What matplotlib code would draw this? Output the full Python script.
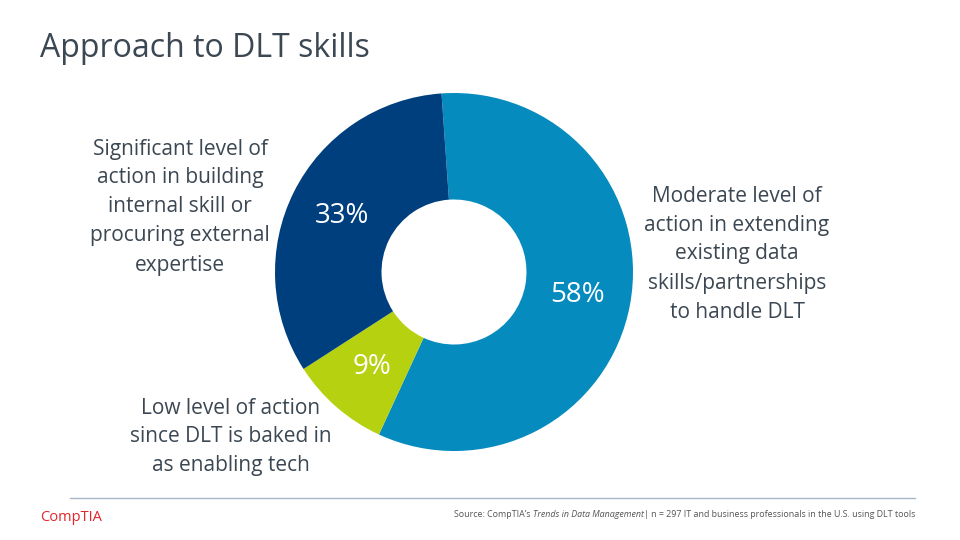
import matplotlib
matplotlib.use("Agg")
import matplotlib.pyplot as plt

plt.rcParams['font.family'] = ['Open Sans', 'DejaVu Sans']

# data
shares = [58, 9, 33]
pct_labels = ['58%', '9%', '33%']
colors = ['#068BBE', '#B6D10F', '#003F7D']
cat_labels = [
    'Moderate level of\naction in extending\nexisting data\nskills/partnerships\nto handle DLT',
    'Low level of action\nsince DLT is baked in\nas enabling tech',
    'Significant level of\naction in building\ninternal skill or\nprocuring external\nexpertise',
]
title = 'Approach to DLT skills'
source_parts = ["Source: CompTIA\u2019s ", "Trends in Data Management", "| n = 297 IT and business professionals in the U.S. using DLT tools"]

W, H = 960, 540
fig = plt.figure(figsize=(9.6, 5.4), dpi=100)
fig.patch.set_facecolor('white')

def px(x, y):
    return x / W, 1 - y / H

text_col = '#3B4752'

# donut
cx, cy, r = 454, 272, 179
ax = fig.add_axes([(cx - r) / W, 1 - (cy + r) / H, 2 * r / W, 2 * r / H])
wedges, texts, autotexts = ax.pie(
    shares, colors=colors, startangle=94, counterclock=False,
    wedgeprops=dict(width=1 - 72.5 / 179, linewidth=0),
    autopct=lambda p: '', pctdistance=0.70)
for t, lab in zip(autotexts, pct_labels):
    t.set_text(lab)
    t.set_color('white')
    t.set_fontsize(20)
ax.set_xlim(-1, 1)
ax.set_ylim(-1, 1)
ax.set_aspect('equal')
ax.axis('off')

# category labels
label_pos = [(737, 254), (231, 437), (180, 207)]
for lab, (x, y) in zip(cat_labels, label_pos):
    fig.text(*px(x, y), lab, ha='center', va='center', fontsize=15,
             color=text_col, linespacing=1.5)

# title
fig.text(*px(40, 57), title, ha='left', va='baseline', fontsize=23, color=text_col)

# footer
fig.add_artist(plt.Line2D([70 / W, 915 / W], [1 - 498 / H] * 2, color='#A9B8C6', lw=1.0))
fig.text(*px(40, 521), 'CompTIA', ha='left', va='baseline', fontsize=10.5,
         color='#E3262D', fontweight='normal')

renderer = fig.canvas.get_renderer()
styles = ['normal', 'italic', 'normal']
objs = []
for part, st in zip(source_parts, styles):
    objs.append(fig.text(0, 1 - 517 / H, part, ha='left', va='baseline',
                         fontsize=6.4, style=st, color='#555555'))
widths = [o.get_window_extent(renderer).width for o in objs]
x = 915 - sum(widths)
for o, w in zip(objs, widths):
    o.set_x(x / W)
    x += w

fig.savefig('out.png', dpi=100, facecolor='white')
